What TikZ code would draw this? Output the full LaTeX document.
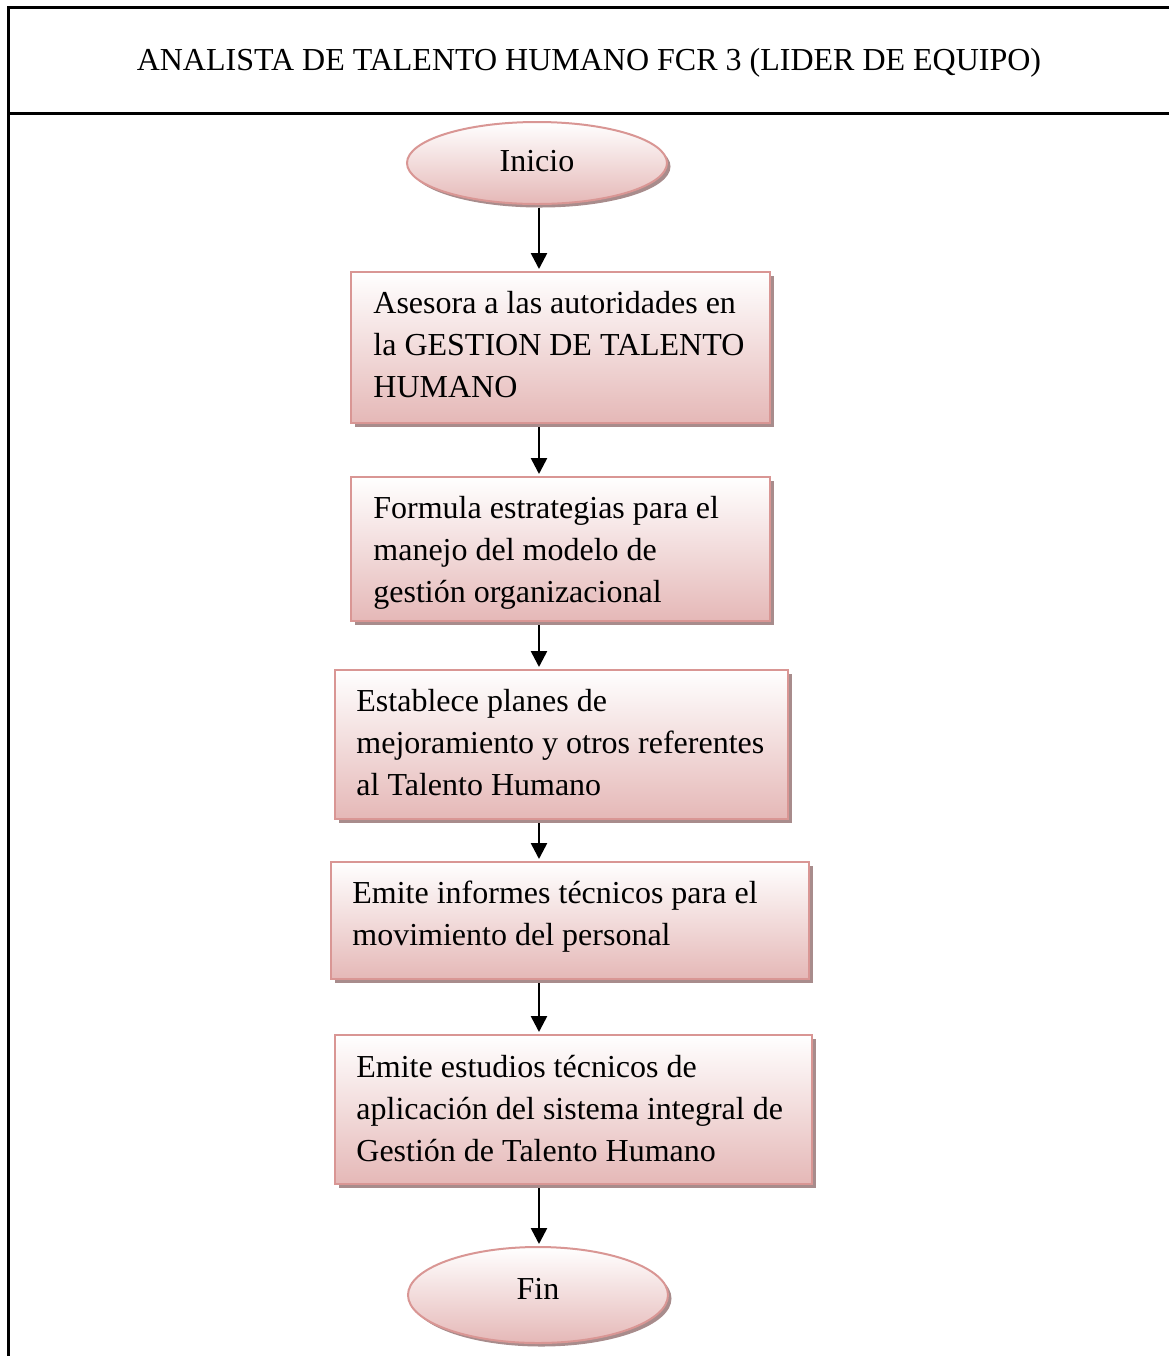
\documentclass[tikz,border=0pt]{standalone}
\usepackage{fontspec}
\setmainfont{Liberation Serif}
\usetikzlibrary{shapes.geometric,shadows,arrows.meta}
\definecolor{pinkline}{RGB}{217,150,148}
\definecolor{pinkfill}{RGB}{229,184,183}
\definecolor{shadowc}{RGB}{168,140,140}
\begin{document}
\begin{tikzpicture}[x=0.5pt,y=-0.5pt,
  frame/.style={line width=1.5pt},
  shapebase/.style={draw=pinkline, line width=1pt, top color=white, bottom color=pinkfill,
    drop shadow={shadow xshift=1.75pt, shadow yshift=-1.75pt, fill=shadowc, opacity=1}, inner sep=0pt},
  stepbox/.style={shapebase, rectangle},
  term/.style={shapebase, ellipse, font=\fontsize{16}{21}\selectfont},
  txt/.style={anchor=north west, inner sep=0pt, align=left, font=\fontsize{16}{21}\selectfont},
  arr/.style={line width=1.3pt, -{Triangle[width=8pt,length=8pt]}, shorten <=1.5pt, shorten >=1pt}]
\useasboundingbox (0,0) rectangle (1169,1356);
% frame
\draw[frame] (8,1356) -- (8,7) -- (1169,7);
\draw[frame] (8,113) -- (1169,113);
\node[font=\fontsize{16}{21}\selectfont, inner sep=0pt] (title) at (589,63) {ANALISTA DE TALENTO HUMANO FCR 3 (LIDER DE EQUIPO)};
% terminals
\node[term, minimum width=130pt, minimum height=41pt, text depth=2pt] (ini) at (537,163) {Inicio};
\node[term, minimum width=130pt, minimum height=48pt, text depth=6pt] (fin) at (538,1295) {Fin};
% boxes
\node[stepbox, minimum width=209.5pt, minimum height=75.5pt] (b1) at (560.5,347.5) {};
\node[stepbox, minimum width=209.5pt, minimum height=72pt] (b2) at (560.5,549) {};
\node[stepbox, minimum width=226.5pt, minimum height=74.5pt] (b3) at (561.5,744.5) {};
\node[stepbox, minimum width=239pt, minimum height=58.5pt] (b4) at (570,920.5) {};
\node[stepbox, minimum width=238.5pt, minimum height=74.5pt] (b5) at (573.5,1109.5) {};
% texts
\node[txt] (t1) at (373,283.5) {\strut Asesora a las autoridades en\\la GESTION DE TALENTO\\HUMANO};
\node[txt] (t2) at (373,488.5) {\strut Formula estrategias para el\\manejo del modelo de\\gestión organizacional};
\node[txt] (t3) at (356,681.5) {\strut Establece planes de\\mejoramiento y otros referentes\\al Talento Humano};
\node[txt] (t4) at (352,873.5) {\strut Emite informes técnicos para el\\movimiento del personal};
\node[txt] (t5) at (356,1047.5) {\strut Emite estudios técnicos de\\aplicación del sistema integral de\\Gestión de Talento Humano};
% arrows
\draw[arr] ([xshift=1pt]ini.south) -- ([xshift=1pt]ini.south |- b1.north);
\draw[arr] ([xshift=1pt]b1.south -| ini.south) -- ([xshift=1pt]b2.north -| ini.south);
\draw[arr] ([xshift=1pt]b2.south -| ini.south) -- ([xshift=1pt]b3.north -| ini.south);
\draw[arr] ([xshift=1pt]b3.south -| ini.south) -- ([xshift=1pt]b4.north -| ini.south);
\draw[arr] ([xshift=1pt]b4.south -| ini.south) -- ([xshift=1pt]b5.north -| ini.south);
\draw[arr] ([xshift=1pt]b5.south -| ini.south) -- ([xshift=1pt]fin.north -| ini.south);
\end{tikzpicture}
\end{document}
